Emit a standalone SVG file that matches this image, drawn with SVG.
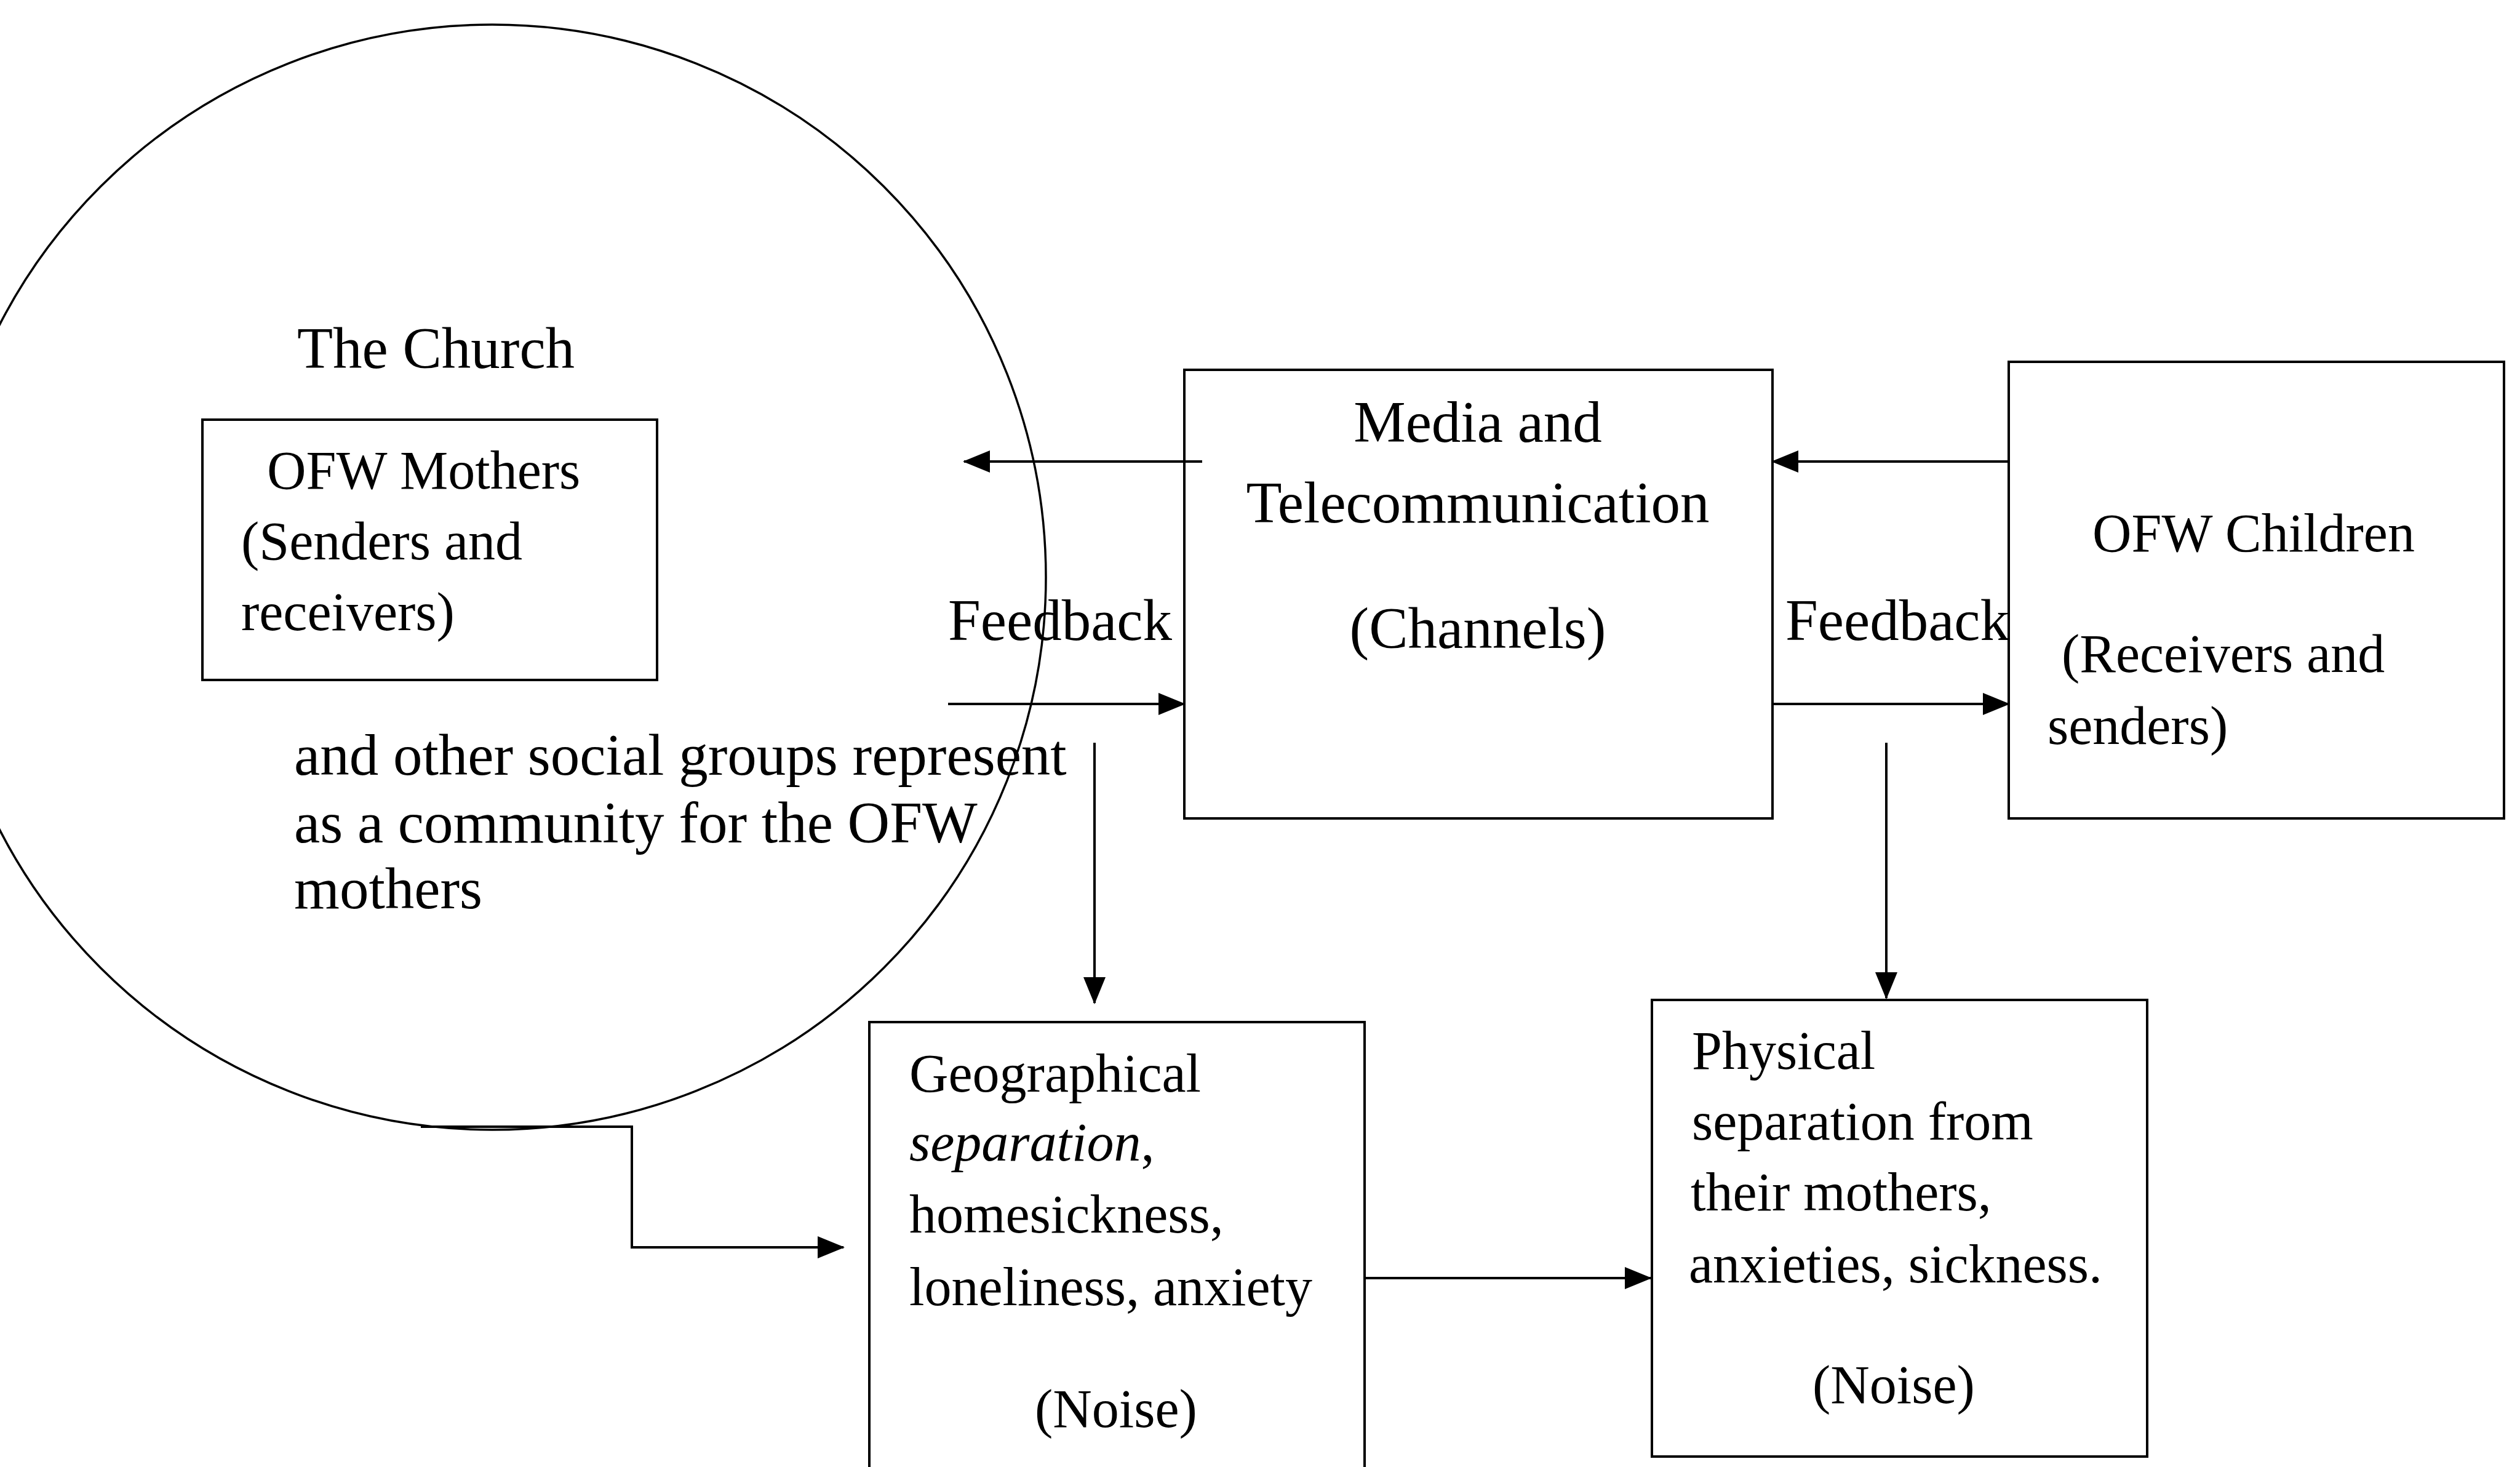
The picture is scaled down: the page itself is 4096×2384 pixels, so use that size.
<svg xmlns="http://www.w3.org/2000/svg" width="4096" height="2384" viewBox="0 0 4096 2384">
<defs>
<marker id="ah" markerUnits="userSpaceOnUse" markerWidth="44" markerHeight="36" refX="42" refY="18" orient="auto">
<path d="M0,0 L44,18 L0,36 Z" fill="#000"/>
</marker>
<style>
.b{fill:none;stroke:#000;stroke-width:4}
.c{fill:none;stroke:#000;stroke-width:3.5}
.l{fill:none;stroke:#000;stroke-width:4;marker-end:url(#ah)}
.t{font-family:"Liberation Serif","Times New Roman",serif;font-size:88px;fill:#000}
.T{font-family:"Liberation Serif","Times New Roman",serif;font-size:95px;fill:#000}
.m{text-anchor:middle}
</style>
</defs>
<rect width="4096" height="2384" fill="#fff"/>
<g id="church">
<ellipse class="c" cx="800" cy="938" rx="900" ry="898"/>
<text class="T" x="483" y="598">The Church</text>
<text class="T" x="478" y="1259">and other social groups represent</text>
<text class="T" x="478" y="1369">as a community for the OFW</text>
<text class="T" x="478" y="1476">mothers</text>
</g>
<g id="mothers">
<rect class="b" x="329" y="682" width="739" height="423"/>
<text class="t" x="434" y="794">OFW Mothers</text>
<text class="t" x="392" y="909">(Senders and</text>
<text class="t" x="392" y="1024">receivers)</text>
</g>
<g id="media">
<rect class="b" x="1925" y="601" width="956" height="729"/>
<text class="T m" x="2402" y="718">Media and</text>
<text class="T m" x="2402" y="849">Telecommunication</text>
<text class="T m" x="2402" y="1053">(Channels)</text>
</g>
<g id="children">
<rect class="b" x="3265" y="588" width="805" height="742"/>
<text class="t" x="3401" y="896">OFW Children</text>
<text class="t" x="3351" y="1092">(Receivers and</text>
<text class="t" x="3328" y="1209">senders)</text>
</g>
<g id="geo">
<rect class="b" x="1413" y="1661" width="805" height="760"/>
<text class="t" x="1478" y="1774">Geographical</text>
<text class="t" x="1478" y="1886"><tspan font-style="italic">separation</tspan>,</text>
<text class="t" x="1478" y="2003">homesickness,</text>
<text class="t" x="1478" y="2121">loneliness, anxiety</text>
<text class="t" x="1682" y="2319">(Noise)</text>
</g>
<g id="physical">
<rect class="b" x="2685" y="1625" width="805" height="742"/>
<text class="t" x="2750" y="1737">Physical</text>
<text class="t" x="2750" y="1852">separation from</text>
<text class="t" x="2748" y="1967">their mothers,</text>
<text class="t" x="2745" y="2084">anxieties, sickness.</text>
<text class="t" x="2946" y="2280">(Noise)</text>
</g>
<g id="feedback-labels">
<text class="T" x="1541" y="1040">Feedback</text>
<text class="T" x="2902" y="1040">Feedback</text>
</g>
<g id="connectors">
<line class="l" x1="1954" y1="750" x2="1567" y2="750"/>
<line class="l" x1="3265" y1="750" x2="2881" y2="750"/>
<line class="l" x1="1541" y1="1144" x2="1925" y2="1144"/>
<line class="l" x1="2881" y1="1144" x2="3265" y2="1144"/>
<line class="l" x1="1779" y1="1207" x2="1779" y2="1630"/>
<line class="l" x1="3066" y1="1207" x2="3066" y2="1622"/>
<polyline class="l" points="684,1831 1027,1831 1027,2027 1371,2027"/>
<line class="l" x1="2218" y1="2077" x2="2683" y2="2077"/>
</g>
</svg>
